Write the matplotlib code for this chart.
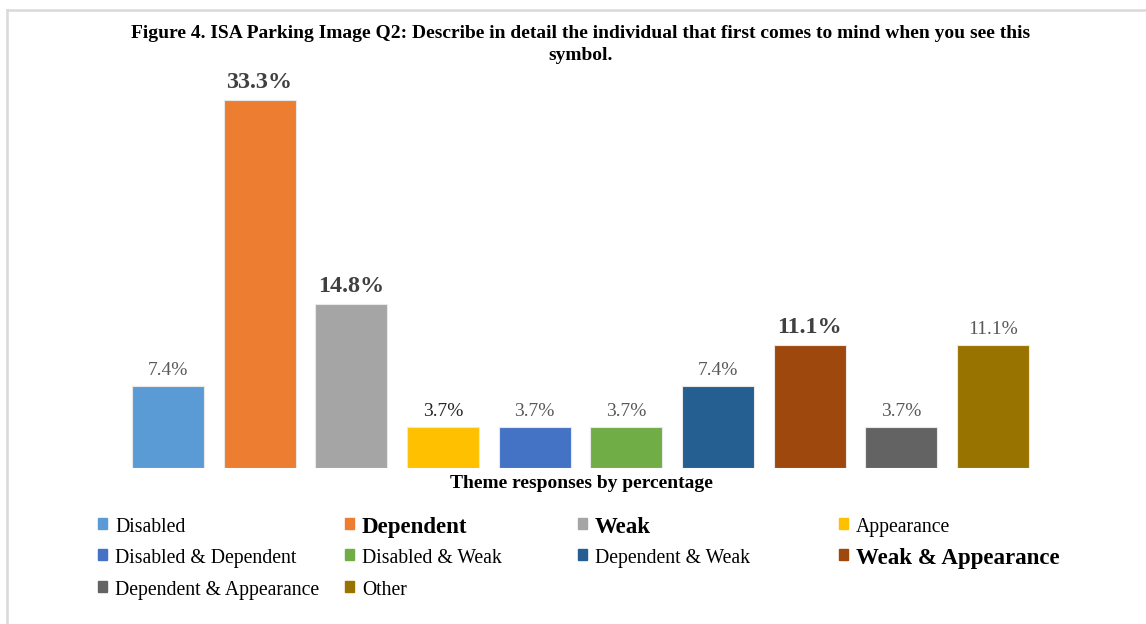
import matplotlib
matplotlib.use('Agg')
import matplotlib.pyplot as plt
from matplotlib.patches import Rectangle
from matplotlib.lines import Line2D

# ── Data ─────────────────────────────────────────────────────────────────────
categories = ['Disabled', 'Dependent', 'Weak', 'Appearance',
              'Disabled & Dependent', 'Disabled & Weak', 'Dependent & Weak',
              'Weak & Appearance', 'Dependent & Appearance', 'Other']
values = [7.4, 33.3, 14.8, 3.7, 3.7, 3.7, 7.4, 11.1, 3.7, 11.1]
value_bold = [False, True, True, False, False, False, False, True, False, False]
legend_bold = [False, True, True, False, False, False, False, True, False, False]
label_colors = ['#595959', '#404040', '#404040', '#262626', '#595959',
                '#595959', '#595959', '#404040', '#595959', '#595959']

colors = ['#5B9BD5', '#ED7D31', '#A5A5A5', '#FFC000', '#4472C4',
          '#70AD47', '#255E91', '#9E480E', '#636363', '#997300']

W, H = 1146, 624
plt.rcParams.update({'font.family': ['Liberation Serif', 'DejaVu Serif']})

fig = plt.figure(figsize=(W/100, H/100), dpi=100)
ax = fig.add_axes([122/W, 1-468/H, (1039-122)/W, (468-70)/H])

x = list(range(len(values)))
bars = ax.bar(x, values, width=0.785, color=colors, edgecolor='#e8e8e8',
              linewidth=0.8, zorder=3)

for b, v, bold, lc in zip(bars, values, value_bold, label_colors):
    ax.annotate(f'{v:.1f}%', xy=(b.get_x() + b.get_width()/2, v),
                xytext=(0, 5), textcoords='offset points',
                ha='center', va='bottom',
                fontsize=17.4 if bold else 14,
                fontweight='bold' if bold else 'normal',
                color=lc)

ax.set_xlim(-0.5, len(values)-0.5)
ax.set_ylim(0, 36)
ax.axis('off')

# title and axis label
fig.text(581/W, 1-33/H,
         'Figure 4. ISA Parking Image Q2: Describe in detail the individual that first comes to mind when you see this',
         ha='center', va='center', fontsize=14, fontweight='bold')
fig.text(581/W, 1-55/H, 'symbol.', ha='center', va='center',
         fontsize=14, fontweight='bold')
fig.text(581/W, 1-483/H, 'Theme responses by percentage', ha='center',
         va='center', fontsize=14, fontweight='bold')

# legend, laid out like the original (4 columns, uneven spacing)
col_x = [98, 345, 578, 839]
row_y = [524, 555, 587]
for i, (name, c, bold) in enumerate(zip(categories, colors, legend_bold)):
    cx = col_x[i % 4]; cy = row_y[i // 4]
    fig.add_artist(Rectangle((cx/W, 1-(cy+5)/H), 9/W, 11/H,
                             transform=fig.transFigure, color=c))
    fig.text((cx+17)/W, 1-(cy+1)/H, name, ha='left', va='center_baseline',
             fontsize=16.5 if bold else 14.2,
             fontweight='bold' if bold else 'normal', color='black')

# outer frame (only top and left edges visible)
fig.add_artist(Line2D([6.5/W, 6.5/W], [0, 1-9.5/H], transform=fig.transFigure,
                      color='#d9d9d9', lw=1.8))
fig.add_artist(Line2D([6.5/W, 1], [1-9.5/H, 1-9.5/H], transform=fig.transFigure,
                      color='#d9d9d9', lw=1.8))

fig.savefig('out.png', dpi=100, facecolor='white')
